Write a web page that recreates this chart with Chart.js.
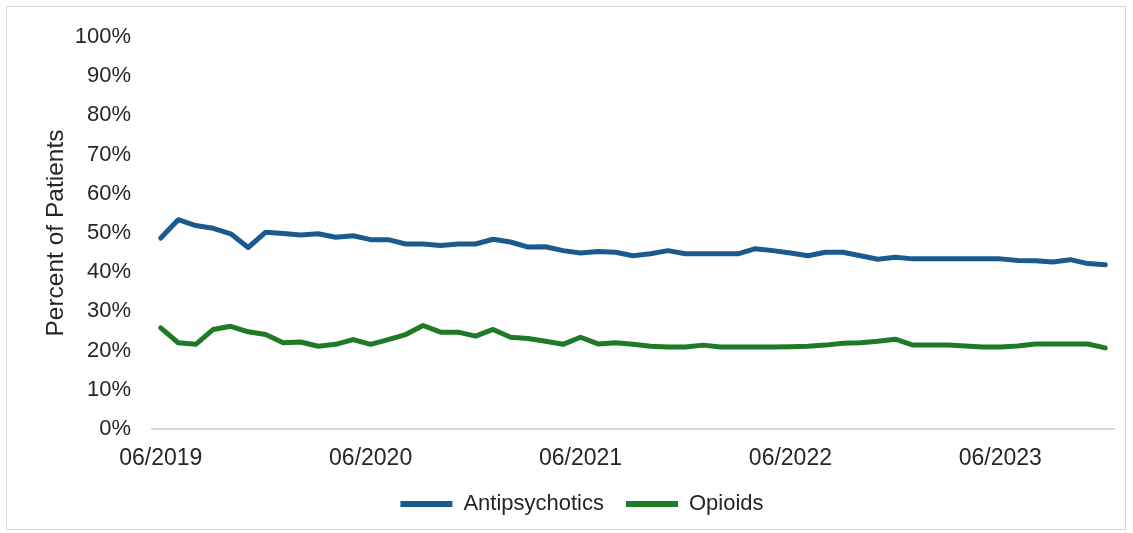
<!DOCTYPE html>
<html>
<head>
<meta charset="utf-8">
<script src="https://cdn.jsdelivr.net/npm/chart.js@4/dist/chart.umd.min.js"></script>
<style>
  html, body { margin: 0; padding: 0; background: #ffffff; }
  #wrap { position: relative; width: 1133px; height: 533px; }
  #frame { position: absolute; left: 6px; top: 6px; width: 1120px; height: 524px; border: 1px solid #d9d9d9; box-sizing: border-box; pointer-events: none; }
  canvas { position: absolute; left: 0; top: 0; }
</style>
</head>
<body>
<div id="wrap">
  <canvas id="chart" width="1133" height="533"></canvas>
  <div id="frame"></div>
</div>
<script>
// Monthly reporting periods, 06/2019 through 12/2023
const months = [
  '06/2019','07/2019','08/2019','09/2019','10/2019','11/2019','12/2019',
  '01/2020','02/2020','03/2020','04/2020','05/2020','06/2020','07/2020','08/2020','09/2020','10/2020','11/2020','12/2020',
  '01/2021','02/2021','03/2021','04/2021','05/2021','06/2021','07/2021','08/2021','09/2021','10/2021','11/2021','12/2021',
  '01/2022','02/2022','03/2022','04/2022','05/2022','06/2022','07/2022','08/2022','09/2022','10/2022','11/2022','12/2022',
  '01/2023','02/2023','03/2023','04/2023','05/2023','06/2023','07/2023','08/2023','09/2023','10/2023','11/2023','12/2023'
];

// Percent of patients on each drug class
const antipsychotics = [
  48.7, 53.4, 51.9, 51.2, 49.8, 46.3, 50.2, 49.9, 49.5, 49.8, 48.9, 49.3,
  48.3, 48.3, 47.2, 47.2, 46.8, 47.2, 47.2, 48.4, 47.7, 46.4, 46.5, 45.5,
  44.9, 45.3, 45.1, 44.2, 44.7, 45.5, 44.7, 44.7, 44.7, 44.7, 46.0, 45.5,
  44.9, 44.2, 45.1, 45.1, 44.2, 43.3, 43.8, 43.4, 43.4, 43.4, 43.4, 43.4,
  43.4, 43.0, 42.9, 42.6, 43.2, 42.2, 41.9
];
const opioids = [
  25.8, 22.0, 21.6, 25.4, 26.2, 24.8, 24.1, 22.0, 22.2, 21.1, 21.6, 22.8,
  21.6, 22.8, 24.1, 26.4, 24.7, 24.7, 23.7, 25.4, 23.4, 23.1, 22.4, 21.6,
  23.4, 21.7, 22.0, 21.6, 21.1, 20.9, 20.9, 21.4, 20.9, 20.9, 20.9, 20.9,
  21.0, 21.1, 21.4, 21.9, 22.0, 22.4, 22.9, 21.4, 21.4, 21.4, 21.2, 20.9,
  20.9, 21.2, 21.7, 21.7, 21.7, 21.7, 20.7
];

const seriesNames = ['Antipsychotics', 'Opioids'];
const seriesColors = ['#1b5a8e', '#1e7a25'];
const yTicks = [0, 10, 20, 30, 40, 50, 60, 70, 80, 90, 100];

const FONT = 'Liberation Sans, Arial, Helvetica, sans-serif';
const TEXT = '#262626';

new Chart(document.getElementById('chart'), {
  type: 'line',
  data: {
    labels: months,
    datasets: [
      { label: seriesNames[0], data: antipsychotics, borderColor: seriesColors[0], backgroundColor: seriesColors[0] },
      { label: seriesNames[1], data: opioids, borderColor: seriesColors[1], backgroundColor: seriesColors[1] }
    ]
  },
  options: {
    responsive: false,
    animation: false,
    layout: { padding: { left: 50, right: 19, top: 37, bottom: 8 } },
    elements: {
      line: { borderWidth: 5, tension: 0, borderCapStyle: 'round', borderJoinStyle: 'round' },
      point: { radius: 0, hoverRadius: 0 }
    },
    plugins: {
      tooltip: { enabled: false },
      legend: {
        position: 'bottom',
        labels: {
          font: { family: FONT, size: 22 },
          color: TEXT,
          boxWidth: 52,
          boxHeight: 6,
          padding: 22,
          generateLabels(chart) {
            return chart.data.datasets.map((ds, i) => ({
              text: ds.label,
              fillStyle: ds.borderColor,
              strokeStyle: ds.borderColor,
              lineWidth: 0,
              fontColor: TEXT,
              datasetIndex: i,
              hidden: false
            }));
          }
        }
      }
    },
    scales: {
      x: {
        type: 'category',
        offset: true,
        grid: { display: false, drawTicks: false },
        border: { display: true, color: '#d3dae2', width: 2 },
        ticks: {
          autoSkip: false,
          maxRotation: 0,
          minRotation: 0,
          padding: 16,
          color: TEXT,
          font: { family: FONT, size: 23 },
          callback(value, index) {
            const m = months[index];
            return m.startsWith('06/') ? m : '';
          }
        },
        afterFit(scale) { scale.height = 42; }
      },
      y: {
        min: 0,
        max: 100,
        grid: { display: false, drawTicks: false },
        border: { display: false },
        afterBuildTicks(scale) { scale.ticks = yTicks.map(v => ({ value: v })); },
        ticks: {
          padding: 21,
          color: TEXT,
          font: { family: FONT, size: 22 },
          callback(value) { return value + '%'; }
        },
        title: {
          display: true,
          text: 'Percent of Patients',
          color: TEXT,
          font: { family: FONT, size: 24.5 },
          padding: { top: -8, bottom: 0 }
        },
        afterFit(scale) { scale.width = 102; }
      }
    }
  }
});
</script>
</body>
</html>
